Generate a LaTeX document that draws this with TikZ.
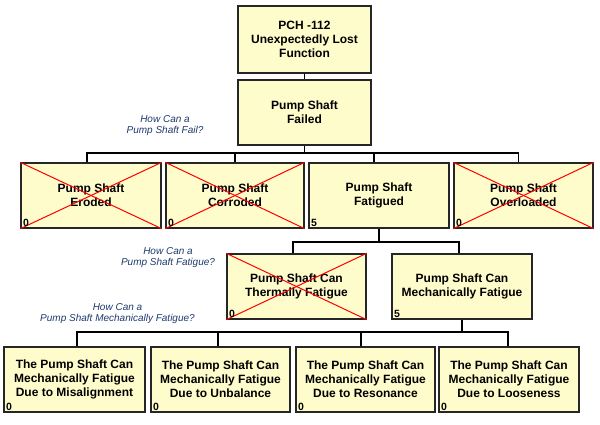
\documentclass[tikz,border=0pt]{standalone}
\usepackage{fontspec}
\setmainfont{Liberation Sans}
\begin{document}
\begin{tikzpicture}[x=1pt,y=-1pt,
  box/.style={draw=black!85,line width=1.3pt,fill=boxfill,align=center,
    font=\bfseries\fontsize{12}{14}\selectfont,inner sep=2pt},
  conn/.style={draw=black,line width=1.3pt},
  xcross/.style={draw=red,line width=1pt},
  qlabel/.style={align=center,text=qblue,font=\itshape\fontsize{10}{11.5}\selectfont,inner sep=0pt},
  num/.style={anchor=south west,font=\bfseries\fontsize{10.5}{11}\selectfont,inner xsep=2.5pt,inner ysep=1.5pt}]
\definecolor{boxfill}{HTML}{FFFCCC}
\definecolor{qblue}{HTML}{1F3A6E}
\useasboundingbox[fill=white] (0,0) rectangle (600,425);

% boxes: centre x, centre y, width, height
\node[box,minimum width=133pt,minimum height=67pt] (top) at (304.5,39.5) {PCH -112\\Unexpectedly Lost\\Function};
\node[box,minimum width=133pt,minimum height=65pt] (fail) at (304.5,112.5) {Pump Shaft\\Failed};

\node[box,minimum width=140pt,minimum height=65pt] (ero) at (91,195.5) {Pump Shaft\\Eroded};
\node[box,minimum width=138pt,minimum height=65pt] (cor) at (235,195.5) {Pump Shaft\\Corroded};
\node[box,minimum width=140pt,minimum height=65pt] (fat) at (379,195.5) {Pump Shaft\\Fatigued};
\node[box,minimum width=139pt,minimum height=65pt] (ovl) at (523.5,195.5) {Pump Shaft\\Overloaded};

\node[box,minimum width=139pt,minimum height=65pt] (thm) at (296.5,286.5) {Pump Shaft Can\\Thermally Fatigue};
\node[box,minimum width=140pt,minimum height=65pt] (mec) at (462,286.5) {Pump Shaft Can\\Mechanically Fatigue};

\node[box,minimum width=141pt,minimum height=65pt] (mis) at (74.5,379.5) {The Pump Shaft Can\\Mechanically Fatigue\\Due to Misalignment};
\node[box,minimum width=139pt,minimum height=65pt] (unb) at (220.5,379.5) {The Pump Shaft Can\\Mechanically Fatigue\\Due to Unbalance};
\node[box,minimum width=139pt,minimum height=65pt] (res) at (365.5,379.5) {The Pump Shaft Can\\Mechanically Fatigue\\Due to Resonance};
\node[box,minimum width=140pt,minimum height=65pt] (loo) at (509,379.5) {The Pump Shaft Can\\Mechanically Fatigue\\Due to Looseness};

% red crosses
\foreach \n in {ero,cor,ovl,thm}{
  \draw[xcross] (\n.north west) -- (\n.south east);
  \draw[xcross] (\n.south west) -- (\n.north east);
}

% numbers
\node[num] at (ero.south west) {0};
\node[num] at (cor.south west) {0};
\node[num] at (fat.south west) {5};
\node[num] at (ovl.south west) {0};
\node[num] at (thm.south west) {0};
\node[num] at (mec.south west) {5};
\node[num] at (mis.south west) {0};
\node[num] at (unb.south west) {0};
\node[num] at (res.south west) {0};
\node[num] at (loo.south west) {0};

% connectors
\draw[conn] (top.south) -- (fail.north);

\coordinate (b1) at (0,153);
\draw[conn] (fail.south) -- (fail.south |- b1);
\draw[conn] ([xshift=-4pt]ero.north) |- ([xshift=-5pt]ovl.north |- b1) -- ([xshift=-5pt]ovl.north);
\draw[conn] (cor.north) -- (cor.north |- b1);
\draw[conn] ([xshift=-5pt]fat.north) -- ([xshift=-5pt]fat.north |- b1);

\coordinate (b2) at (0,242);
\draw[conn] (fat.south) -- (fat.south |- b2);
\draw[conn] ([xshift=-3.5pt]thm.north) |- ([xshift=-3pt]mec.north |- b2) -- ([xshift=-3pt]mec.north);

\coordinate (b3) at (0,332);
\draw[conn] (mec.south) -- (mec.south |- b3);
\draw[conn] ([xshift=2.5pt]mis.north) |- ([xshift=-1pt]loo.north |- b3) -- ([xshift=-1pt]loo.north);
\draw[conn] ([xshift=-2.5pt]unb.north) -- ([xshift=-2.5pt]unb.north |- b3);
\draw[conn] ([xshift=-4.5pt]res.north) -- ([xshift=-4.5pt]res.north |- b3);

% question labels
\node[qlabel] (q1) at (165,125.5) {How Can a\\Pump Shaft Fail?};
\node[qlabel] (q2) at (168,257.5) {How Can a\\Pump Shaft Fatigue?};
\node[qlabel] (q3) at (117.5,313.5) {How Can a\\Pump Shaft Mechanically Fatigue?};
\end{tikzpicture}
\end{document}
